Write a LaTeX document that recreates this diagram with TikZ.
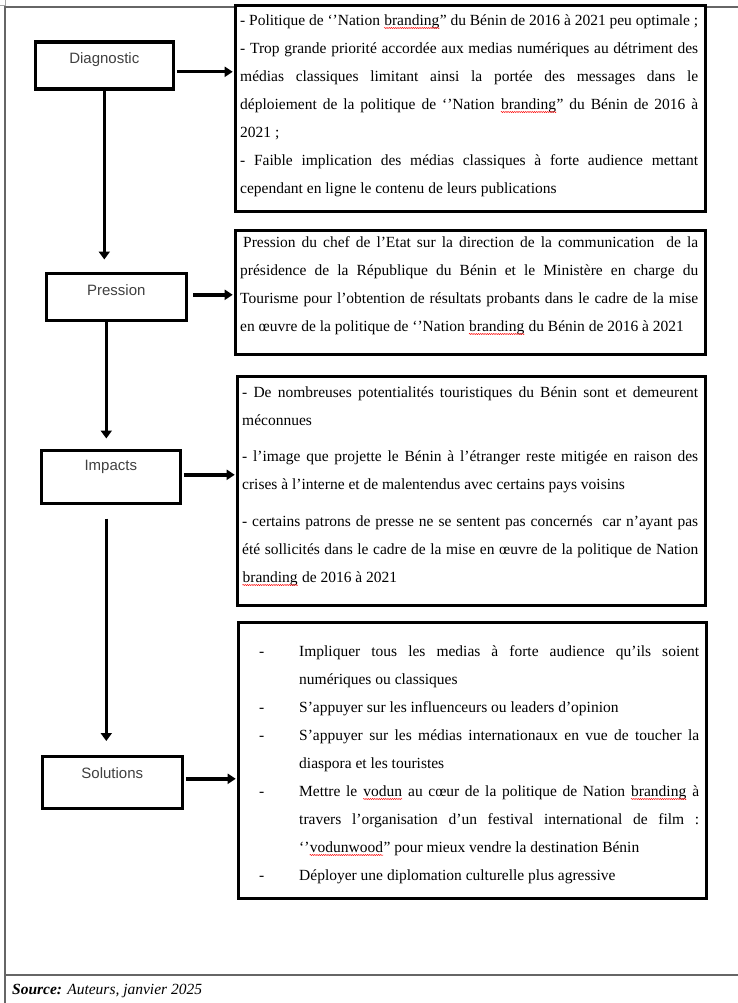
\documentclass[tikz,border=0pt]{standalone}
\usepackage{fontspec}
\setmainfont{Liberation Serif}
\newfontfamily\labfont{Liberation Sans}
\usetikzlibrary{arrows.meta,calc,decorations.pathmorphing}
\newcommand\redwave[1]{\tikz[baseline=(w.base)]{\node[inner sep=0pt, anchor=base west] (w) at (0,0) {#1};
  \draw[red, line width=0.45pt, decorate, decoration={snake, amplitude=0.6pt, segment length=2.2pt}]
    ([yshift=-2.8pt]w.base west) -- ([yshift=-2.8pt]w.base east);}}
\newcommand\firststrut{\rule{0pt}{12pt}}
\newcommand\itm{\par\noindent\hangindent=56pt\hangafter=1\makebox[56pt][l]{\hspace{16pt}-}}
\tikzset{
  frameline/.style={draw=black!60, line width=1.4pt},
  labelbox/.style={draw=black, line width=3.6pt, fill=white, inner xsep=0pt, inner ysep=0pt,
    font=\labfont\fontsize{15}{18}\selectfont, text=black!75, anchor=north west},
  textbox/.style={draw=black, line width=2.6pt, fill=white, inner sep=0pt, anchor=north west},
  bodytext/.style={inner sep=0pt, anchor=north west, align=justify,
    font=\fontsize{15.5}{28}\selectfont,
    execute at begin node={\setlength\parindent{0pt}\hyphenpenalty=10000\tolerance=10000\emergencystretch=20pt}},
  harrow/.style={line width=3.4pt, -{Triangle[length=8pt,width=10pt]}},
  varrow/.style={line width=3pt, -{Triangle[length=8pt,width=11pt]}},
}
\begin{document}
\begin{tikzpicture}[x=1pt,y=-1pt]
\useasboundingbox (0,0) rectangle (738,1003);
% page frame
\draw[black!35, line width=0.6pt] (0,5) -- (5,5) -- (5,0);
\draw[frameline] (5,1003) -- (5,7) -- (738,7);
\draw[frameline] (5,975) -- (738,975);

% left boxes
\node[labelbox, minimum width=138pt, text height=21pt, text depth=26pt] (diag) at (33.5,40.5) {Diagnostic};
\node[labelbox, minimum width=140pt, text height=21.9pt, text depth=25.1pt] (pres) at (44.5,271.5) {Pression};
\node[labelbox, minimum width=139pt, text height=19.9pt, text depth=33.1pt] (imp) at (39.5,448.5) {Impacts};
\node[labelbox, minimum width=140pt, text height=21.9pt, text depth=30.1pt] (sol) at (40.5,754.5) {Solutions};

% right boxes
\node[textbox, minimum width=470pt, minimum height=206pt] (b1) at (234,4) {};
\node[textbox, minimum width=470pt, minimum height=124pt] (b2) at (234,229) {};
\node[textbox, minimum width=468pt, minimum height=229pt] (b3) at (236,375) {};
\node[textbox, minimum width=468pt, minimum height=276pt] (b4) at (237,621) {};

\node[bodytext, text width=458pt] (t1) at ($(b1.north west)+(6,9)$) {\firststrut
- Politique de ‘’Nation \redwave{branding}” du Bénin de 2016 à 2021 peu optimale ;\par
- Trop grande priorité accordée aux medias numériques au détriment des\linebreak
médias classiques limitant ainsi la portée des messages dans le\linebreak
déploiement de la politique de ‘’Nation \redwave{branding}” du Bénin de 2016 à\linebreak
2021 ;\par
- Faible implication des médias classiques à forte audience mettant\linebreak
cependant en ligne le contenu de leurs publications};

\node[bodytext, text width=458pt] (t2) at ($(b2.north west)+(6,6)$) {\firststrut\hspace{3pt}Pression du chef de l’Etat sur la direction de la communication\ \ de la\linebreak
présidence de la République du Bénin et le Ministère en charge du\linebreak
Tourisme pour l’obtention de résultats probants dans le cadre de la mise\linebreak
en œuvre de la politique de ‘’Nation \redwave{branding} du Bénin de 2016 à 2021};

\node[bodytext, text width=456pt, execute at begin node={\setlength\parskip{8.5pt}}] (t3) at ($(b3.north west)+(6,10)$) {\firststrut
- De nombreuses potentialités touristiques du Bénin sont et demeurent\linebreak
méconnues\par
- l’image que projette le Bénin à l’étranger reste mitigée en raison des\linebreak
crises à l’interne et de malentendus avec certains pays voisins\par
- certains patrons de presse ne se sentent pas concernés\ \ car n’ayant pas\linebreak
été sollicités dans le cadre de la mise en œuvre de la politique de Nation\linebreak
\redwave{branding} de 2016 à 2021};

\node[bodytext, text width=456pt] (t4) at ($(b4.north west)+(6,7)$) {%
\itm\firststrut Impliquer tous les medias à forte audience qu’ils soient\linebreak
numériques ou classiques
\itm S’appuyer sur les influenceurs ou leaders d’opinion
\itm S’appuyer sur les médias internationaux en vue de toucher la\linebreak
diaspora et les touristes
\itm Mettre le \redwave{vodun} au cœur de la politique de Nation \redwave{branding} à\linebreak
travers l’organisation d’un festival international de film :\linebreak
‘’\redwave{vodunwood}” pour mieux vendre la destination Bénin
\itm Déployer une diplomation culturelle plus agressive\par};

% horizontal arrows
\draw[harrow] ($(diag.east)+(1.8,6)$) -- ($(b1.west |- diag.east)+(-1.3,6)$);
\draw[harrow] ($(pres.east)+(5,-2)$) -- ($(b2.west |- pres.east)+(-1.3,-2)$);
\draw[harrow] ($(imp.east)+(1.8,-2)$) -- ($(b3.west |- imp.east)+(-1.3,-2)$);
\draw[harrow] ($(sol.east)+(1.8,-3.5)$) -- ($(b4.west |- sol.east)+(-1.3,-3.5)$);

% vertical arrows
\draw[varrow] (diag.south) -- ($(diag.south |- pres.north)+(0,-12)$);
\draw[varrow] ($(pres.south)+(-10,0)$) -- ($(pres.south |- imp.north)+(-10,-10)$);
\draw[varrow] ($(imp.south)+(-4.5,13.5)$) -- ($(imp.south |- sol.north)+(-4.5,-13.5)$);

% source
\node[anchor=base west, inner sep=0pt, font=\fontsize{15.5}{18}\selectfont] (src) at (12,994)
  {\textbf{\textit{Source:}} \textit{Auteurs, janvier 2025}};
\end{tikzpicture}
\end{document}
